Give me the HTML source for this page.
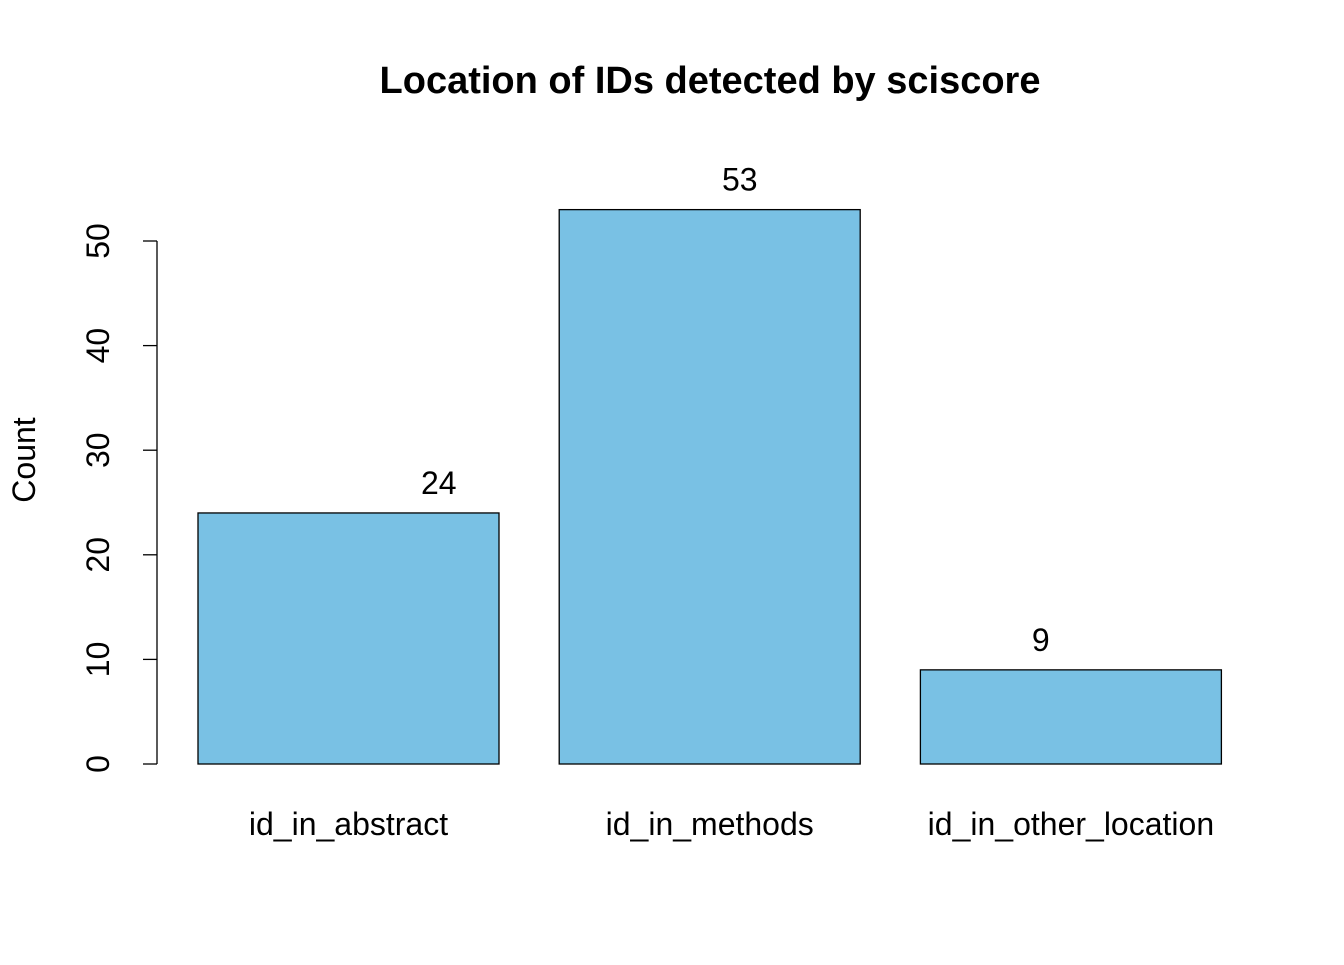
<!DOCTYPE html>
<html><head><meta charset="utf-8"><style>
body{margin:0;background:#fff}
svg text{font-family:"Liberation Sans",Arial,sans-serif;fill:#000}
</style></head><body>
<svg id="chart" width="1344" height="960" xmlns="http://www.w3.org/2000/svg">
<text x="710" y="93" font-size="38" font-weight="bold" text-anchor="middle">Location of IDs detected by sciscore</text>
<text transform="translate(35,460) rotate(-90)" font-size="32" text-anchor="middle">Count</text>
<g id="bars"></g><g id="yaxis"></g><g id="labels"></g>
</svg>
<script>
const categories=["id_in_abstract","id_in_methods","id_in_other_location"];
const values=[24,53,9];
const yTicks=[0,10,20,30,40,50];
const NS="http://www.w3.org/2000/svg";
function y(v){return 764-v*10.46;}
function xu(u){return 198+(u-0.2)*301;}
function mk(t,a,p){const e=document.createElementNS(NS,t);for(const k in a)e.setAttribute(k,a[k]);p.appendChild(e);return e;}
const bars=document.getElementById('bars'),ya=document.getElementById('yaxis'),lb=document.getElementById('labels');
values.forEach((v,i)=>{
  const left=0.2+i*1.2;
  const r=mk('rect',{x:xu(left),y:y(v),width:301,height:y(0)-y(v),fill:'#79c1e4',stroke:'#000','stroke-width':1.3},bars);
  
  
  const c=mk('text',{x:xu(left+0.5),y:835,'font-size':32,'text-anchor':'middle'},lb);
  c.textContent=categories[i];
  
  
  const t=mk('text',{x:xu(i+1),y:y(v)-19,'font-size':32,'text-anchor':'middle'},lb);
  t.textContent=v;
  
  
});
const ax=mk('line',{x1:157,x2:157,y1:y(yTicks[yTicks.length-1]),y2:y(yTicks[0]),stroke:'#000','stroke-width':1.3},ya);


yTicks.forEach(v=>{
  const l=mk('line',{x1:143,x2:157,y1:y(v),y2:y(v),stroke:'#000','stroke-width':1.3},ya);
  
  
  const t=mk('text',{transform:`translate(109,${y(v)}) rotate(-90)`,'font-size':32,'text-anchor':'middle'},ya);
  t.textContent=v;
  
  
});
</script>
</body></html>
